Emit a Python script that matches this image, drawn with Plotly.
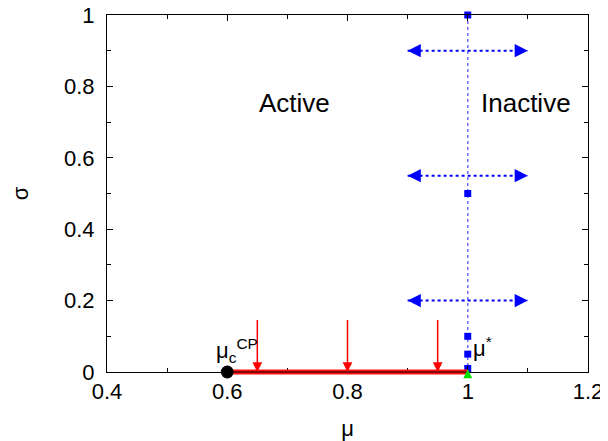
import plotly.graph_objects as go

# ---- data ----
mu_c = 0.6
mu_star = 1.0
active_mu = [0.6, 1.0]
active_sigma = [0.0, 0.0]
sq_mu = [1.0, 1.0, 1.0, 1.0, 1.0]
sq_sigma = [1.0, 0.5, 0.1, 0.05, 0.01]
vline_sigma = [0.0, 1.0]
h_sigmas = [0.9, 0.55, 0.2]
h_range = [0.9, 1.1]
red_mu = [0.65, 0.8, 0.95]
red_top = 0.15
xticks = [0.4, 0.6, 0.8, 1.0, 1.2]
xticklabels = ["0.4", "0.6", "0.8", "1", "1.2"]
yticks = [0, 0.2, 0.4, 0.6, 0.8, 1.0]
yticklabels = ["0", "0.2", "0.4", "0.6", "0.8", "1"]

FONT = "Liberation Sans, Arial, sans-serif"
BLUE = "#0000ff"
fig = go.Figure()

# vertical dotted line at mu*
fig.add_trace(go.Scatter(x=[mu_star, mu_star], y=vline_sigma, mode="lines",
                         line=dict(color="rgba(60,60,255,0.75)", width=1.5, dash="dot"),
                         hoverinfo="skip", cliponaxis=False))
# horizontal dotted lines
for s in h_sigmas:
    fig.add_trace(go.Scatter(x=h_range, y=[s, s], mode="lines",
                             line=dict(color=BLUE, width=2, dash="dot"),
                             hoverinfo="skip"))
    for xe, xi in ((h_range[0], h_range[0] + 0.02), (h_range[1], h_range[1] - 0.02)):
        fig.add_annotation(x=xe, y=s, ax=xi, ay=s, xref="x", yref="y", axref="x", ayref="y",
                           showarrow=True, arrowhead=2, arrowsize=1.2, arrowwidth=2.2,
                           arrowcolor=BLUE, text="")
# blue squares
fig.add_trace(go.Scatter(x=sq_mu, y=sq_sigma, mode="markers",
                         marker=dict(symbol="square", size=7, color=BLUE),
                         cliponaxis=False, hoverinfo="skip"))

# red active line (annotation so it is not clipped at the axis)
fig.add_annotation(x=active_mu[1], y=active_sigma[1], ax=active_mu[0], ay=active_sigma[0],
                   xref="x", yref="y", axref="x", ayref="y", showarrow=True, arrowhead=0,
                   arrowwidth=5, arrowcolor="#ff1010", text="", standoff=0, startstandoff=0)
# thin dark core line ending in the critical-point circle
fig.add_annotation(x=mu_c, y=0, ax=active_mu[1], ay=0, xref="x", yref="y",
                   axref="x", ayref="y", showarrow=True, arrowhead=6, arrowsize=3.2,
                   arrowwidth=1, arrowcolor="black", text="")
# green triangle at mu*
fig.add_annotation(x=mu_star, y=0.0076, ax=0, ay=6, xref="x", yref="y",
                   showarrow=True, arrowhead=2, arrowsize=0.9,
                   arrowwidth=2, arrowcolor="#00dd00", text="")
# red arrows
for m in red_mu:
    fig.add_annotation(x=m, y=0, ax=m, ay=red_top, xref="x", yref="y", axref="x", ayref="y",
                       showarrow=True, arrowhead=2, arrowsize=1.3, arrowwidth=1.5,
                       arrowcolor="#ff0000", text="")

# text labels
fig.add_annotation(x=0.7125, y=0.753, xref="x", yref="y", text="Active", showarrow=False,
                   font=dict(size=26, color="black", family=FONT))
fig.add_annotation(x=1.097, y=0.753, xref="x", yref="y", text="Inactive", showarrow=False,
                   font=dict(size=26, color="black", family=FONT))
fig.add_annotation(x=0.578, y=0.012, xref="x", yref="y", xanchor="left", yanchor="bottom",
                   text="μ<sub>c</sub><sup>CP</sup>", showarrow=False,
                   font=dict(size=22, color="black", family=FONT))
fig.add_annotation(x=1.005, y=0.025, xref="x", yref="y", xanchor="left", yanchor="bottom",
                   text="μ<sup>*</sup>", showarrow=False,
                   font=dict(size=22, color="black", family=FONT))

axis_common = dict(showline=True, linecolor="black", linewidth=1, mirror="allticks",
                   ticks="inside", ticklen=6, tickcolor="black", showgrid=False,
                   zeroline=False, layer="above traces", automargin=False,
                   ticklabeloverflow="allow",
                   tickfont=dict(size=22, color="black", family=FONT),
                   minor=dict(ticks="inside", ticklen=4, tickcolor="black", dtick=0.1))
fig.update_xaxes(range=[0.4, 1.2], tickvals=xticks, ticktext=xticklabels,
                 title=dict(text="μ", font=dict(size=22, color="black", family=FONT), standoff=20),
                 **axis_common)
fig.update_yaxes(range=[0, 1], tickvals=yticks, ticktext=yticklabels, ticklabelstandoff=7,
                 title=dict(text="σ", font=dict(size=22, color="black", family=FONT), standoff=36),
                 **axis_common)
fig.update_layout(width=600, height=433, margin=dict(l=99, r=20, t=7, b=69),
                  plot_bgcolor="white", paper_bgcolor="white", showlegend=False,
                  font=dict(family=FONT))
fig.write_html("out.html")
